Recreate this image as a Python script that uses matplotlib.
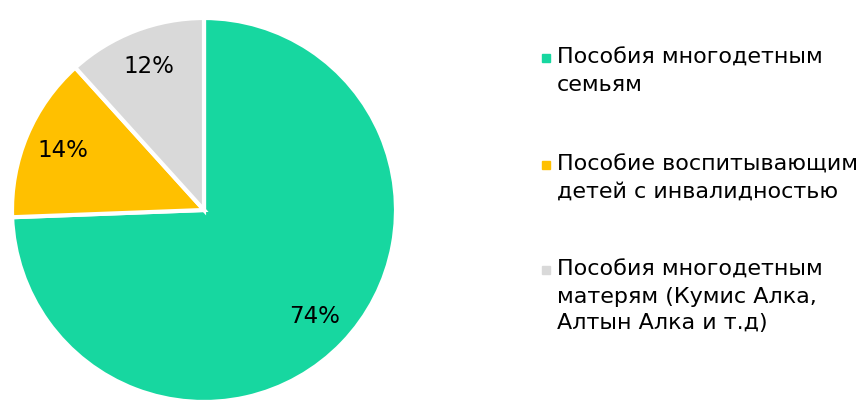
import matplotlib.pyplot as plt
from matplotlib.patches import Rectangle

labels = ["Пособия многодетным\nсемьям",
          "Пособие воспитывающим\nдетей с инвалидностью",
          "Пособия многодетным\nматерям (Кумис Алка,\nАлтын Алка и т.д)"]
shares = [74.4, 13.9, 11.7]
colors = ["#17D7A0", "#FFC000", "#D9D9D9"]

W, H = 866, 413
fig = plt.figure(figsize=(W / 100, H / 100), dpi=100)

# pie axes: centre (204, 210), radius 192 px
r = 192
cx, cy = 204, 210
ax = fig.add_axes([(cx - r) / W, (H - cy - r) / H, 2 * r / W, 2 * r / H])
ax.pie(shares, colors=colors, startangle=90, counterclock=False,
       autopct=lambda p: f"{p:.0f}%", pctdistance=0.8, radius=1,
       wedgeprops=dict(edgecolor="white", linewidth=3),
       textprops=dict(fontsize=16.5, color="black"))
ax.set_xlim(-1, 1)
ax.set_ylim(-1, 1)
ax.set_aspect("equal")

# legend, drawn by hand
ypos = [58, 165, 270]
for lab, col, y in zip(labels, colors, ypos):
    fig.patches.append(Rectangle((542 / W, (H - y - 4) / H), 8 / W, 8 / H,
                                 transform=fig.transFigure, color=col))
    fig.text(557 / W, (H - y + 10) / H, lab, fontsize=16, va="top",
             ha="left", linespacing=1.42)

fig.savefig("out.png", dpi=100)
